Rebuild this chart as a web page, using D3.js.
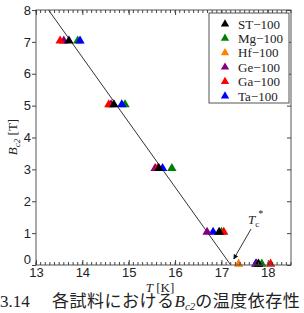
<!DOCTYPE html>
<html>
<head>
<meta charset="utf-8">
<script src="https://cdn.jsdelivr.net/npm/d3@7"></script>
<style>
  body { margin: 0; background: #fff; }
  svg { display: block; }
</style>
</head>
<body>
<div id="chart"></div>
<script>
// series: temperature T [K] at which each sample reaches field B [T]
var fields = [7, 5, 3, 1, 0];
var seriesNames = ["ST-100", "Mg-100", "Hf-100", "Ge-100", "Ga-100", "Ta-100"];
var seriesColors = ["#000000", "#008000", "#ff8000", "#800080", "#ff0000", "#0000ff"];
var tST = [13.71, 14.68, 15.65, 16.95, 17.8];
var tMg = [13.9, 14.92, 15.93, 17.0, 17.87];
var tHf = [null, null, null, null, 17.37];
var tGe = [13.6, 14.62, 15.57, 16.69, 17.76];
var tGa = [13.52, 14.57, 15.62, 17.05, 18.06];
var tTa = [13.95, 14.85, 15.73, 16.82, 17.74];
var fitT = [13.27, 17.2];
var fitB = [8, 0];
var xTicks = [13, 14, 15, 16, 17, 18];
var yTicks = [0, 1, 2, 3, 4, 5, 6, 7, 8];

var width = 304, height = 313;
var margin = {left: 36, right: 13, top: 10, bottom: 48};

var svg = d3.select("#chart").append("svg")
    .attr("width", width)
    .attr("height", height);

var x = d3.scaleLinear().domain([13, 18.5]).range([margin.left, width - margin.right]);
var y = d3.scaleLinear().domain([0, 8]).range([height - margin.bottom, margin.top]);

var sansFont = "'Liberation Sans', Arial, sans-serif";
var serifFont = "'Liberation Serif', 'Times New Roman', serif";

// fit line
var line = d3.line()
    .x(function(d) { return x(d[0]); })
    .y(function(d) { return y(d[1]); });
svg.append("path")
    .datum(d3.zip(fitT, fitB))
    .attr("d", line)
    .attr("fill", "none")
    .attr("stroke", "#333")
    .attr("stroke-width", 1);

// markers
var allT = [tST, tMg, tHf, tGe, tGa, tTa];
var tri = d3.symbol().type(d3.symbolTriangle).size(38);
// draw order so that overlaps look like the original
var drawOrder = [2, 1, 5, 3, 4, 0];
drawOrder.forEach(function(si) {
  var pts = [];
  allT[si].forEach(function(t, i) { if (t !== null) pts.push([t, fields[i]]); });
  svg.append("g").selectAll("path")
    .data(pts)
    .enter()
    .append("path")
    .attr("d", tri)
    .attr("transform", function(d) {
      return "translate(" + x(d[0]) + "," + (y(d[1]) - 1) + ")";
    })
    .attr("fill", seriesColors[si]);
});

// frame
var x0 = margin.left, x1 = width - margin.right;
var y0 = height - margin.bottom, y1 = margin.top;
svg.append("rect")
    .attr("x", x0).attr("y", y1)
    .attr("width", x1 - x0).attr("height", y0 - y1)
    .attr("fill", "none")
    .attr("stroke", "#555")
    .attr("stroke-width", 1);

// x axis: bottom + top, ticks inward
var minor = d3.range(130, 186).map(function(v) { return v / 10; });
var bottomAxis = d3.axisBottom(x).tickValues(xTicks).tickSize(-5).tickPadding(3)
    .tickFormat(d3.format("d"));
var gb = svg.append("g").attr("transform", "translate(0," + y0 + ")").call(bottomAxis);
gb.select(".domain").remove();
gb.selectAll("text").attr("font-family", sansFont).attr("font-size", 13).attr("fill", "#222");
gb.selectAll("line").attr("stroke", "#444");
gb.selectAll(".minor").data(minor).enter().append("line")
    .attr("x1", function(d) { return x(d); }).attr("x2", function(d) { return x(d); })
    .attr("y1", 0).attr("y2", -3).attr("stroke", "#444");

var gt = svg.append("g").attr("transform", "translate(0," + y1 + ")")
    .call(d3.axisTop(x).tickValues(xTicks).tickSize(-5).tickFormat(""));
gt.select(".domain").remove();
gt.selectAll("line").attr("stroke", "#444");
gt.selectAll(".minor").data(minor).enter().append("line")
    .attr("x1", function(d) { return x(d); }).attr("x2", function(d) { return x(d); })
    .attr("y1", 0).attr("y2", 3).attr("stroke", "#444");

// y axis left + right
var gl = svg.append("g").attr("transform", "translate(" + x0 + ",0)")
    .call(d3.axisLeft(y).tickValues(yTicks).tickSize(4).tickPadding(1).tickFormat(d3.format("d")));
gl.select(".domain").remove();
gl.selectAll("line").attr("stroke", "#444");
gl.selectAll("text").attr("font-family", sansFont).attr("font-size", 13).attr("fill", "#222");
gl.selectAll(".tick").filter(function(d) { return d === 0; }).select("text").attr("dy", "-0.1em");

var gr = svg.append("g").attr("transform", "translate(" + x1 + ",0)")
    .call(d3.axisRight(y).tickValues(yTicks).tickSize(-4).tickFormat(""));
gr.select(".domain").remove();
gr.selectAll("line").attr("stroke", "#444");

// axis labels
var xl = svg.append("text")
    .attr("x", 160).attr("y", 292)
    .attr("text-anchor", "middle")
    .attr("font-family", serifFont).attr("font-size", 13).attr("fill", "#222");
xl.append("tspan").attr("font-style", "italic").text("T");
xl.append("tspan").text(" [K]");

var yl = svg.append("text")
    .attr("transform", "translate(17,137) rotate(-90)")
    .attr("text-anchor", "middle")
    .attr("font-family", serifFont).attr("font-size", 13).attr("fill", "#222");
yl.append("tspan").attr("font-style", "italic").text("B");
yl.append("tspan").attr("font-size", 9).attr("dy", 3).attr("font-style", "italic").text("c2");
yl.append("tspan").attr("dy", -3).text(" [T]");

// legend
var legend = svg.append("g").attr("transform", "translate(209,13)");
legend.append("rect")
    .attr("width", 80).attr("height", 90)
    .attr("fill", "#fff").attr("stroke", "#555").attr("stroke-width", 1);
var items = legend.selectAll(".item")
    .data(seriesNames)
    .enter().append("g")
    .attr("transform", function(d, i) { return "translate(0," + (11 + i * 14.4) + ")"; });
items.append("path")
    .attr("d", d3.symbol().type(d3.symbolTriangle).size(30))
    .attr("transform", "translate(16,0)")
    .attr("fill", function(d, i) { return seriesColors[i]; });
items.append("text")
    .attr("x", 29).attr("y", 4.5)
    .attr("font-family", serifFont).attr("font-size", 13).attr("fill", "#222")
    .text(function(d) { return d.replace("-", "\u2212"); });

// Tc* annotation
var defs = svg.append("defs");
defs.append("marker").attr("id", "arr")
    .attr("viewBox", "0 0 10 10").attr("refX", 9).attr("refY", 5)
    .attr("markerWidth", 5).attr("markerHeight", 5).attr("orient", "auto")
    .append("path").attr("d", "M0,0L10,5L0,10z").attr("fill", "#111");
svg.append("line")
    .attr("x1", 251).attr("y1", 229).attr("x2", x(17.2) + 3).attr("y2", y(0) - 6)
    .attr("stroke", "#333").attr("stroke-width", 1)
    .attr("marker-end", "url(#arr)");
var tc = svg.append("text")
    .attr("x", 248).attr("y", 224)
    .attr("font-family", serifFont).attr("font-size", 13).attr("fill", "#222");
tc.append("tspan").attr("font-style", "italic").text("T");
tc.append("tspan").attr("font-size", 9).attr("dy", 3).text("c");
tc.append("tspan").attr("font-size", 10).attr("dy", -10).attr("dx", -1).text("*");

// caption (cut off at the right edge, as in the original page)
var cap = svg.append("text")
    .attr("x", 0).attr("y", 307)
    .attr("font-family", serifFont).attr("font-size", 17).attr("fill", "#222");
cap.append("tspan").text("3.14");
cap.append("tspan").attr("x", 52).attr("font-family", "'Noto Sans CJK JP', sans-serif")
    .attr("letter-spacing", 0.5).text("各試料における");
cap.append("tspan").attr("font-style", "italic").text("B");
cap.append("tspan").attr("font-style", "italic").attr("font-size", 11).attr("dy", 3).text("c2");
cap.append("tspan").attr("dy", -3).attr("font-family", "'Noto Sans CJK JP', sans-serif")
    .attr("letter-spacing", 0.5).text("の温度依存性");
</script>
</body>
</html>
